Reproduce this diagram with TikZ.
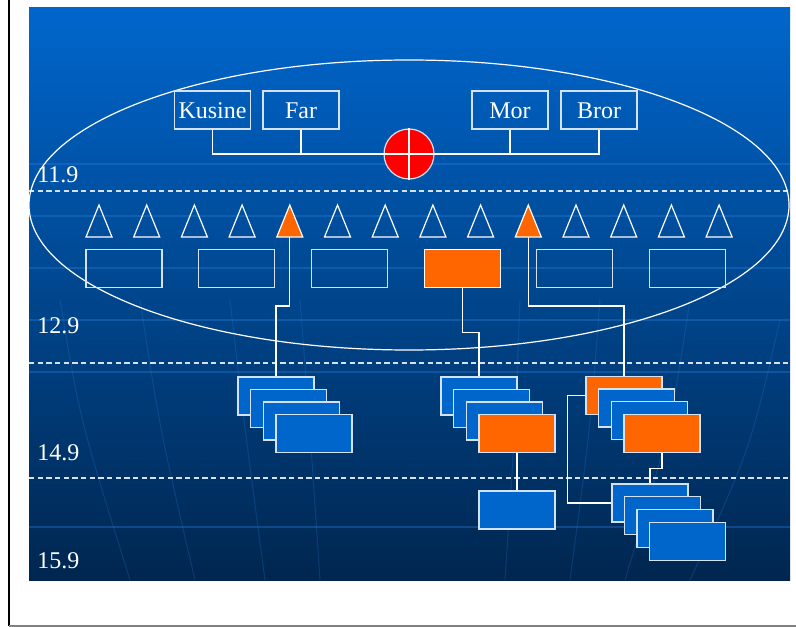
\documentclass[tikz,border=0pt]{standalone}
\usepackage{fontspec}
\setmainfont{Liberation Serif}
\usetikzlibrary{calc}
\definecolor{bgtop}{HTML}{0066CC}
\definecolor{bgmid}{HTML}{004F9F}
\definecolor{bgbot}{HTML}{00264F}
\definecolor{orangec}{HTML}{FF6600}
\definecolor{cardblue}{HTML}{0066CC}
\definecolor{edge}{HTML}{D4E2F2}
\definecolor{gridc}{HTML}{2A80E0}
\begin{document}
\begin{tikzpicture}[x=0.75pt,y=-0.75pt,
  pbox/.style={draw=edge, line width=0.9pt, minimum width=57pt, minimum height=28.5pt, inner sep=0pt, text=white, font=\fontsize{18}{20}\selectfont, text height=13.5pt, text depth=0pt},
  rowbox/.style={draw=edge, line width=0.9pt, minimum width=57pt, minimum height=28.5pt, inner sep=0pt},
  hotrow/.style={rowbox, fill=orangec, draw=white},
  card/.style={draw=edge, fill=cardblue, line width=0.9pt, minimum width=57pt, minimum height=28.5pt, inner sep=0pt},
  hotcard/.style={card, fill=orangec},
  link/.style={draw=white, line width=0.9pt},
  tri/.style={draw=white, line width=0.9pt},
  hottri/.style={tri, fill=orangec},
  gridline/.style={draw=gridc, line width=1.2pt, opacity=0.35},
  meridian/.style={draw=gridc, line width=0.8pt, opacity=0.22},
  sepline/.style={draw=edge, line width=0.8pt, dash pattern=on 4pt off 2.5pt},
  lvl/.style={text=white, font=\fontsize{18}{20}\selectfont, anchor=west, inner sep=0pt}
]
\useasboundingbox (0,0) rectangle (796,627);
\fill[white] (0,0) rectangle (796,627);
% page frame
\draw[black, line width=1.4pt] (9,0) -- (9,626);
\draw[gray, line width=1.2pt] (9,626) -- (796,626);
% background
\shade[top color=bgtop, middle color=bgmid, bottom color=bgbot] (29,8) rectangle (790,580);
% faint grid
\foreach \yy in {164,216,268,320,372,527} \draw[gridline] (29,\yy) -- (790,\yy);
\draw[meridian] (60,300) .. controls (80,420) .. (130,580);
\draw[meridian] (140,300) .. controls (160,430) .. (195,580);
\draw[meridian] (230,300) .. controls (245,430) .. (265,580);
\draw[meridian] (300,300) .. controls (310,430) .. (320,580);
\draw[meridian] (520,300) .. controls (515,430) .. (505,580);
\draw[meridian] (600,300) .. controls (590,430) .. (570,580);
\draw[meridian] (690,300) .. controls (670,430) .. (625,580);
\draw[meridian] (780,320) .. controls (750,450) .. (690,580);
% dashed level lines
\draw[sepline] (29,191) -- (790,191);
\draw[sepline] (29,363) -- (790,363);
\draw[sepline] (29,478) -- (790,478);
% level labels
\node[lvl] (l1) at (37,175) {11.9};
\node[lvl] (l2) at (37,326) {12.9};
\node[lvl] (l3) at (37,453) {14.9};
\node[lvl] (l4) at (37,561) {15.9};
% ellipse
\draw[white, line width=0.9pt] (409,205) ellipse [x radius=285pt, y radius=108.75pt];
% top boxes
\node[pbox] (kusine) at (212.5,110) {Kusine};
\node[pbox] (far) at (301,110) {Far};
\node[pbox] (mor) at (510,110) {Mor};
\node[pbox] (bror) at (599,110) {Bror};
\node[circle, fill=red, draw=edge, line width=0.9pt, minimum size=37.5pt, inner sep=0pt] (hub) at (409,154) {};
\draw[white, line width=1pt] (hub.north) -- (hub.south);
\draw[white, line width=1pt] (hub.west) -- (hub.east);
\draw[link] (kusine.south) |- (hub.west);
\draw[link] (far.south) -- (far.south |- hub.west);
\draw[link] (bror.south) |- (hub.east);
\draw[link] (mor.south) -- (mor.south |- hub.east);
% triangles
\foreach \i/\st in {1/tri,2/tri,3/tri,4/tri,5/hottri,6/tri,7/tri,8/tri,9/tri,10/hottri,11/tri,12/tri,13/tri,14/tri}{
  \pgfmathsetmacro\tx{99+47.7*(\i-1)}
  \draw[\st] (\tx,205) -- (\tx+13,237) -- (\tx-13,237) -- cycle;
  \coordinate (tri\i) at (\tx,237);
}
% row of boxes
\foreach \i/\st in {1/rowbox,2/rowbox,3/rowbox,4/hotrow,5/rowbox,6/rowbox}{
  \node[\st] (r\i) at ({124+112.7*(\i-1)},268.5) {};
}
% stack 1
\node[card] (s1a) at (276,396) {};
\node[card] (s1b) at (288.6,408.5) {};
\node[card] (s1c) at (301.2,421) {};
\node[card] (s1d) at (314,433.5) {};
% stack 2
\node[card] (s2a) at (479,396) {};
\node[card] (s2b) at (491.6,408.5) {};
\node[card] (s2c) at (504.2,421) {};
\node[hotcard] (s2d) at (517,433.5) {};
\node[card] (s2e) at (517,510) {};
% stack 3
\node[hotcard] (s3a) at (624,395.5) {};
\node[card] (s3b) at (636.6,408) {};
\node[card] (s3c) at (649.3,420.7) {};
\node[hotcard] (s3d) at (662,433.5) {};
% stack 4
\node[card] (s4a) at (650,503) {};
\node[card] (s4b) at (662.5,515.8) {};
\node[card] (s4c) at (675,528.5) {};
\node[card] (s4d) at (687.5,541.5) {};
% connectors
\draw[link] (tri5) -- ++(0,69) -| (s1a.north);
\draw[link] (r4.south) -- ++(0,44) -| (s2a.north);
\draw[link] (tri10) -- ++(0,69) -| (s3a.north);
\draw[link] (s2d.south) -- (s2e.north);
\draw[link] (s3d.south) -- ++(0,15) -| (s4a.north);
\draw[link] (s3a.west) -- ++(-18,0) |- (s4a.west);
\end{tikzpicture}
\end{document}
